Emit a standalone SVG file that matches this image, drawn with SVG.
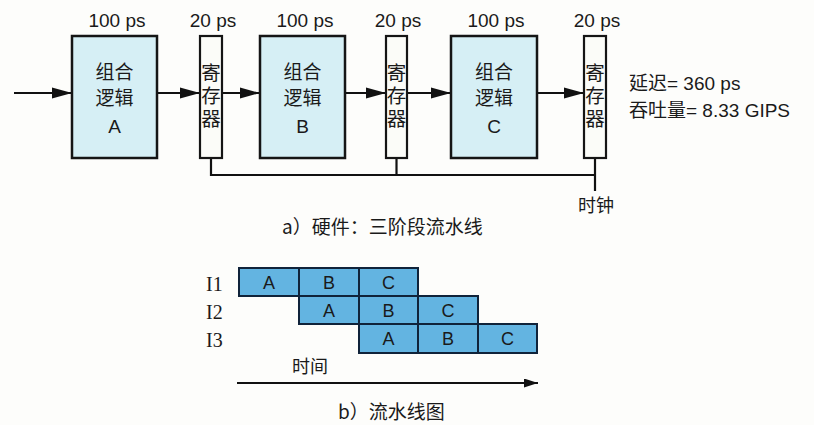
<svg xmlns="http://www.w3.org/2000/svg" width="814" height="425" viewBox="0 0 814 425">
<defs>
<marker id="ah" markerUnits="userSpaceOnUse" markerWidth="20" markerHeight="12" refX="20" refY="6" orient="auto"><path d="M0,0.5 L20,6 L0,11.5 z" fill="#111"/></marker>
<marker id="ah2" markerUnits="userSpaceOnUse" markerWidth="14" markerHeight="9" refX="14" refY="4.5" orient="auto"><path d="M0,0 L14,4.5 L0,9 z" fill="#111"/></marker>
<style>
.t{font-family:"Liberation Sans","Noto Sans CJK SC",sans-serif;fill:#1a1a1a}
.c{font-family:"Noto Sans CJK SC",sans-serif;fill:#1a1a1a}
.v{font-family:"Noto Sans CJK SC",sans-serif;fill:#1a1a1a;font-size:19.5px;writing-mode:vertical-rl;letter-spacing:3.5px}
.m{font-family:"Liberation Serif","DejaVu Serif",serif;fill:#1a1a1a}
.box{fill:#d6eff5;stroke:#151515;stroke-width:2.5}
.reg{fill:#fbfcf8;stroke:#151515;stroke-width:2.2}
.cell{fill:#63b4e1;stroke:#10233a;stroke-width:2}
.w{stroke:#111;stroke-width:2.2;fill:none}
</style>
</defs>
<rect width="814" height="425" fill="#fdfdfb"/>
<g id="connectors">
<line class="w" x1="14" y1="93" x2="72" y2="93" marker-end="url(#ah)"/>
<line class="w" x1="157" y1="93" x2="200" y2="93" marker-end="url(#ah)"/>
<line class="w" x1="222" y1="93" x2="260" y2="93" marker-end="url(#ah)"/>
<line class="w" x1="345" y1="93" x2="386" y2="93" marker-end="url(#ah)"/>
<line class="w" x1="407" y1="93" x2="451" y2="93" marker-end="url(#ah)"/>
<line class="w" x1="537" y1="93" x2="584" y2="93" marker-end="url(#ah)"/>
<polyline class="w" points="211,158 211,175 595,175"/>
<line class="w" x1="396.5" y1="158" x2="396.5" y2="175"/>
<line class="w" x1="595" y1="158" x2="595" y2="191"/>
<line class="w" x1="237" y1="383" x2="538" y2="383" stroke-width="1.8" marker-end="url(#ah2)"/>
</g>
<g id="stageA"><rect class="box" x="72" y="36" width="85" height="122"/>
<text class="c" x="114.5" y="79" font-size="19" text-anchor="middle">组合</text>
<text class="c" x="114.5" y="105" font-size="19" text-anchor="middle">逻辑</text>
<text class="t" x="114.5" y="133" font-size="19" text-anchor="middle">A</text>
<text class="t" x="117" y="27" font-size="19" text-anchor="middle">100 ps</text></g>
<g id="reg1"><rect class="reg" x="200" y="36" width="22" height="122"/>
<text class="v" x="211" y="63">寄存器</text>
<text class="t" x="213" y="27" font-size="19" text-anchor="middle">20 ps</text></g>
<g id="stageB"><rect class="box" x="260" y="36" width="85" height="122"/>
<text class="c" x="302.5" y="79" font-size="19" text-anchor="middle">组合</text>
<text class="c" x="302.5" y="105" font-size="19" text-anchor="middle">逻辑</text>
<text class="t" x="302.5" y="133" font-size="19" text-anchor="middle">B</text>
<text class="t" x="305" y="27" font-size="19" text-anchor="middle">100 ps</text></g>
<g id="reg2"><rect class="reg" x="386" y="36" width="21" height="122"/>
<text class="v" x="396.5" y="63">寄存器</text>
<text class="t" x="398" y="27" font-size="19" text-anchor="middle">20 ps</text></g>
<g id="stageC"><rect class="box" x="451" y="36" width="86" height="122"/>
<text class="c" x="494" y="79" font-size="19" text-anchor="middle">组合</text>
<text class="c" x="494" y="105" font-size="19" text-anchor="middle">逻辑</text>
<text class="t" x="494" y="133" font-size="19" text-anchor="middle">C</text>
<text class="t" x="496" y="27" font-size="19" text-anchor="middle">100 ps</text></g>
<g id="reg3"><rect class="reg" x="584" y="36" width="22" height="122"/>
<text class="v" x="595" y="63">寄存器</text>
<text class="t" x="597" y="27" font-size="19" text-anchor="middle">20 ps</text></g>
<g id="metrics">
<text class="t" x="629" y="90" font-size="19">延迟= 360 ps</text>
<text class="t" x="629" y="117" font-size="19">吞吐量= 8.33 GIPS</text>
</g>
<g id="clock"><text class="c" x="596" y="212" font-size="18" text-anchor="middle">时钟</text></g>
<g id="captionA"><text class="c" x="282" y="234" font-size="19">a）硬件：三阶段流水线</text></g>
<g id="chart">
<rect class="cell" x="239" y="268" width="60" height="28"/>
<rect class="cell" x="299" y="268" width="60" height="28"/>
<rect class="cell" x="359" y="268" width="59" height="28"/>
<rect class="cell" x="299" y="296" width="60" height="28"/>
<rect class="cell" x="359" y="296" width="59" height="28"/>
<rect class="cell" x="418" y="296" width="60" height="28"/>
<rect class="cell" x="359" y="324" width="59" height="29"/>
<rect class="cell" x="418" y="324" width="60" height="29"/>
<rect class="cell" x="478" y="324" width="59" height="29"/>
<g class="t" font-size="18" text-anchor="middle">
<text x="269" y="289">A</text><text x="329" y="289">B</text><text x="388.5" y="289">C</text>
<text x="329" y="317">A</text><text x="388.5" y="317">B</text><text x="448" y="317">C</text>
<text x="388.5" y="345">A</text><text x="448" y="345">B</text><text x="507.5" y="345">C</text>
</g>
<text class="m" x="206" y="291" font-size="20">I1</text>
<text class="m" x="206" y="319" font-size="20">I2</text>
<text class="m" x="206" y="347" font-size="20">I3</text>
<text class="c" x="292" y="373" font-size="18">时间</text>
</g>
<g id="captionB"><text class="c" x="338" y="419" font-size="19">b）流水线图</text></g>
</svg>
